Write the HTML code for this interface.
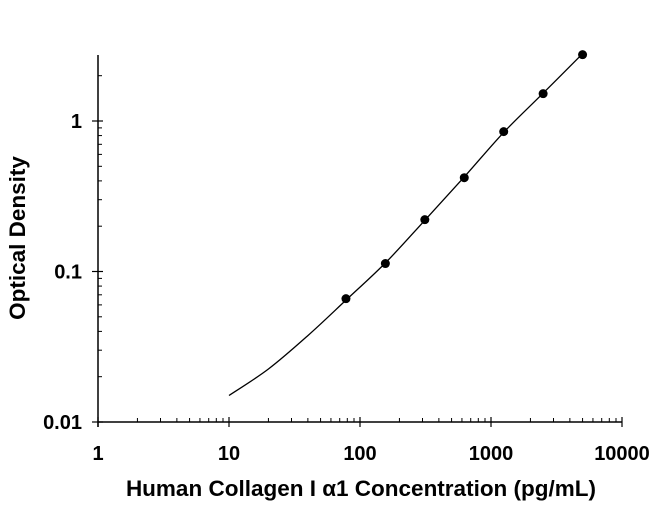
<!DOCTYPE html>
<html><head><meta charset="utf-8"><style>
body{margin:0;background:#fff}
svg text{font-family:"Liberation Sans",Arial,sans-serif;font-weight:bold;fill:#000}
</style></head><body>
<svg id="chart" width="650" height="503" viewBox="0 0 650 503" xmlns="http://www.w3.org/2000/svg"></svg>
<script>
const concentrations=[78.125,156.25,312.5,625,1250,2500,5000];
const odValues=[0.066,0.113,0.221,0.42,0.85,1.52,2.76];
const curveConc=[10,20,40,78.125,156.25,312.5,625,1250,2500,5000];
const curveOD=[0.015,0.0225,0.0375,0.0645,0.114,0.219,0.425,0.84,1.53,2.8];
const xTicks=[1,10,100,1000,10000];
const xTickLabels=["1","10","100","1000","10000"];
const yTicks=[0.01,0.1,1];
const yTickLabels=["0.01","0.1","1"];

const X0=98,XD=131,Y0=422,YD=150.5,YTOP=55,XEND=622;
const xs=v=>X0+Math.log10(v)*XD;
const ys=v=>Y0-(Math.log10(v)+2)*YD;
const svg=document.getElementById('chart');
const NS='http://www.w3.org/2000/svg';
function mk(t,a,p){const e=document.createElementNS(NS,t);for(const k in a)e.setAttribute(k,a[k]);(p||svg).appendChild(e);return e;}

const ax=mk('g',{});


mk('line',{x1:X0,y1:Y0,x2:XEND,y2:Y0,stroke:'#000','stroke-width':1.5},ax);
mk('line',{x1:X0,y1:Y0+5,x2:X0,y2:YTOP,stroke:'#000','stroke-width':1.5},ax);
for(let d=0;d<4;d++){for(let m=2;m<=9;m++){const x=xs(m*Math.pow(10,d));mk('line',{x1:x,y1:Y0,x2:x,y2:Y0-4,stroke:'#000','stroke-width':1},ax);}}
xTicks.forEach((t,i)=>{const x=xs(t);mk('line',{x1:x,y1:Y0-5,x2:x,y2:Y0+5,stroke:'#000','stroke-width':1.2},ax);
const tx=mk('text',{x:x,y:Y0+38,'text-anchor':'middle','font-size':20},ax);tx.textContent=xTickLabels[i];

});
for(let d=-2;d<0;d++){for(let m=2;m<=9;m++){const y=ys(m*Math.pow(10,d));mk('line',{x1:X0,y1:y,x2:X0+4,y2:y,stroke:'#000','stroke-width':1},ax);}}
[2].forEach(m=>{const y=ys(m);if(y>YTOP)mk('line',{x1:X0,y1:y,x2:X0+4,y2:y,stroke:'#000','stroke-width':1},ax);});
yTicks.forEach((t,i)=>{const y=ys(t);mk('line',{x1:X0-6,y1:y,x2:X0+5,y2:y,stroke:'#000','stroke-width':1.2},ax);
const tx=mk('text',{x:X0-16,y:y+7,'text-anchor':'end','font-size':20},ax);tx.textContent=yTickLabels[i];

});
const xt=mk('text',{x:361,y:496,'text-anchor':'middle','font-size':22.5});xt.textContent='Human Collagen I \u03b11 Concentration (pg/mL)';


const yt=mk('text',{x:0,y:0,'text-anchor':'middle','font-size':22.5,transform:'translate(25,238) rotate(-90)'});yt.textContent='Optical Density';


const P=curveConc.map((c,i)=>[xs(c),ys(curveOD[i])]);
let d='M'+P[0][0]+','+P[0][1];
for(let i=0;i<P.length-1;i++){const p0=P[Math.max(0,i-1)],p1=P[i],p2=P[i+1],p3=P[Math.min(P.length-1,i+2)];
d+=` C${p1[0]+(p2[0]-p0[0])/6},${p1[1]+(p2[1]-p0[1])/6} ${p2[0]-(p3[0]-p1[0])/6},${p2[1]-(p3[1]-p1[1])/6} ${p2[0]},${p2[1]}`;}
const cv=mk('path',{d:d,fill:'none',stroke:'#000','stroke-width':1.3});


concentrations.forEach((c,i)=>{const pt=mk('circle',{cx:xs(c),cy:ys(odValues[i]),r:4.5,fill:'#000'});

});
</script>
</body></html>
